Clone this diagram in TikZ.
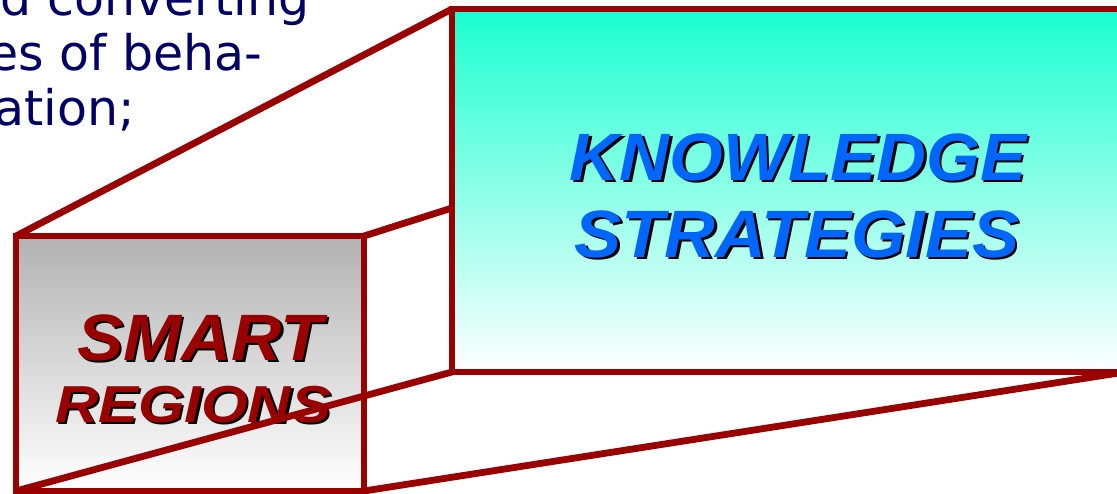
\documentclass[tikz,border=0pt]{standalone}
\usepackage{fontspec}
\setmainfont{Liberation Sans}
\newfontfamily\notefont{DejaVu Sans}
\definecolor{boxred}{HTML}{990000}
\definecolor{knowblue}{HTML}{0066FF}
\definecolor{notenavy}{HTML}{000066}
\definecolor{capgray}{HTML}{B2B2B2}
\definecolor{capcyan}{HTML}{1AFFD0}
\tikzset{
  frame/.style={draw=boxred,line width=3.4pt},
  note/.style={inner sep=0pt,text=notenavy,anchor=base east,
               font=\notefont\fontsize{24.5}{28}\selectfont},
  boxlabel/.style={inner sep=0pt,anchor=base,
               font=\bfseries\itshape\fontsize{#1}{36}\selectfont},
}
\begin{document}
\begin{tikzpicture}[x=0.5pt,y=-0.5pt]
            \def\sh{2.5}
            \useasboundingbox (0,0) rectangle (1117,493);
            \clip (0,0) rectangle (1117,493);
            % text running in from the left
            \node[note] (note1) at (310,15) {and converting};
            \node[note] (note2) at (263,70) {es of beha-};
            \node[note] (note3) at (135,125) {cation;};
            % corners of the two boxes
            \coordinate (s-nw) at (16,236);
            \coordinate (s-ne) at (364,236);
            \coordinate (s-sw) at (16,491);
            \coordinate (s-se) at (364,491);
            \coordinate (b-nw) at (452,9);
            \coordinate (b-w) at (452,208);
            \coordinate (b-sw) at (452,372);
            \coordinate (b-se) at (1125,372);
            \shade[top color=capcyan,bottom color=white] (b-nw) rectangle (b-se);
            \shade[top color=capgray,bottom color=white] (s-nw) rectangle (s-se);
            % labels with shadow
            \node[boxlabel=32.8,text=black,xscale=1.06]
                (smart-sh) at ({200+\sh},{360+\sh}) {SMART};
            \node[boxlabel=32.8,text=boxred,xscale=1.06]
                (smart) at (200,360) {SMART};
            \node[boxlabel=26,text=black,xscale=1.15]
                (regions-sh) at ({193+\sh},{422+\sh}) {REGIONS};
            \node[boxlabel=26,text=boxred,xscale=1.15]
                (regions) at (193,422) {REGIONS};
            \node[boxlabel=33.5,text=black,xscale=1.03]
                (know-sh) at ({798+\sh},{180+\sh}) {KNOWLEDGE};
            \node[boxlabel=33.5,text=knowblue,xscale=1.03]
                (know) at (798,180) {KNOWLEDGE};
            \node[boxlabel=33.5,text=black,xscale=1.05]
                (strat-sh) at ({797+\sh},{257+\sh}) {STRATEGIES};
            \node[boxlabel=33.5,text=knowblue,xscale=1.05]
                (strat) at (797,257) {STRATEGIES};
            % frames and the lines between them
            \draw[frame] (b-nw) rectangle (b-se);
            \draw[frame] (s-nw) rectangle (s-se);
            \draw[frame] (s-nw) -- (b-nw);
            \draw[frame] (s-ne) -- (b-w);
            \draw[frame] (s-sw) -- (b-sw);
            \draw[frame] (s-se) -- (b-se);
\end{tikzpicture}
\end{document}
